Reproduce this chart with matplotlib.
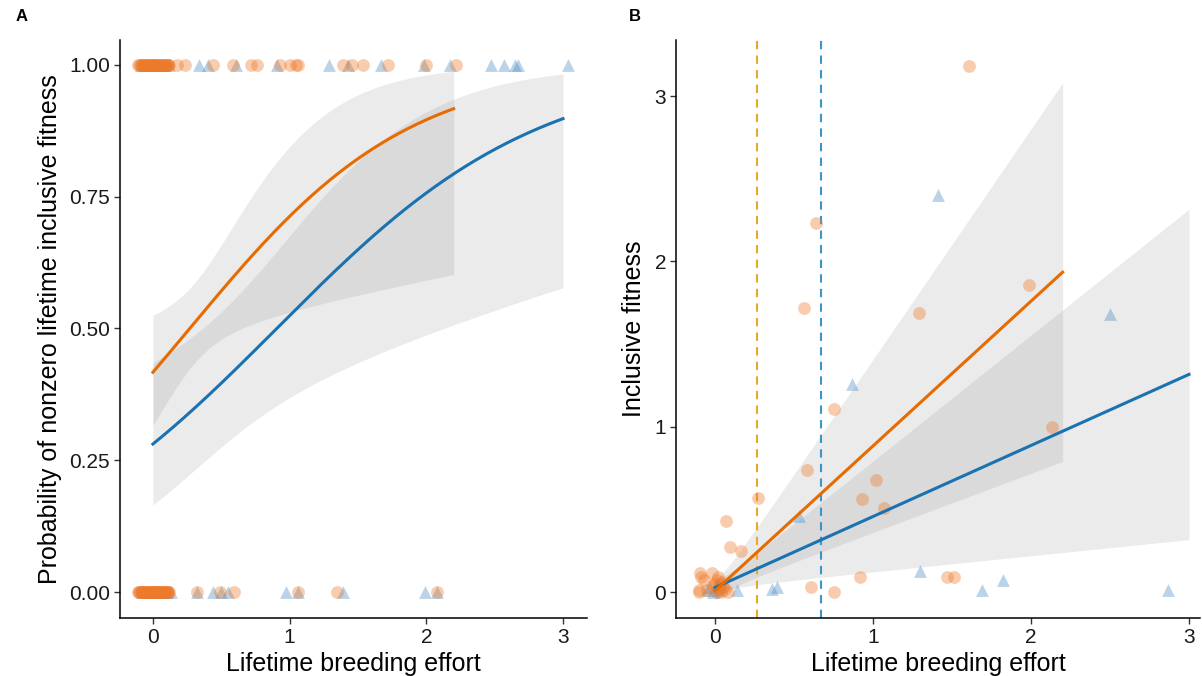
import numpy as np
import matplotlib
matplotlib.use("Agg")
import matplotlib.pyplot as plt

plt.rcParams['font.family'] = ['Liberation Sans', 'DejaVu Sans']

ORANGE = "#E66B00"
BLUE = "#1A72B0"
PT_ORANGE = "#EE7A2A"
PT_BLUE = "#4A8CC4"

# ---------------- Panel A: binary outcome (nonzero inclusive fitness) ----------------
# Orange group: x positions of individuals with outcome 1 and 0
a_orange_x1 = [-0.11, -0.10, -0.09, -0.08, -0.07, -0.06, -0.05, -0.04, -0.03, -0.02, -0.01,
               0.0, 0.0, 0.01, 0.02, 0.03, 0.04, 0.05, 0.06, 0.07, 0.08, 0.09, 0.10,
               0.11, 0.12, -0.09, -0.06, -0.03, 0.0, 0.03, 0.06, 0.09, 0.11,
               0.175, 0.235, 0.44, 0.585, 0.72, 0.76, 0.93, 1.0, 1.05, 1.06,
               1.39, 1.46, 1.54, 1.72, 2.0, 2.22]
a_orange_x0 = [-0.11, -0.10, -0.09, -0.08, -0.07, -0.06, -0.05, -0.04, -0.03, -0.02, -0.01,
               0.0, 0.0, 0.01, 0.02, 0.03, 0.04, 0.05, 0.06, 0.07, 0.08, 0.09, 0.10,
               0.11, 0.12, -0.10, -0.08, -0.06, -0.04, -0.02, 0.0, 0.02, 0.04, 0.06,
               0.08, 0.10, -0.09, -0.05, -0.01, 0.03, 0.07, 0.11,
               0.32, 0.49, 0.59, 1.06, 1.35, 2.08]
# Blue group
a_blue_x1 = [-0.09, -0.06, -0.04, -0.01, 0.02, 0.05, 0.08, 0.12, 0.34, 0.40, 0.61,
             0.91, 1.29, 1.43, 1.67, 1.98, 2.17, 2.47, 2.57, 2.65, 2.67, 3.04]
a_blue_x0 = [-0.08, -0.05, -0.02, 0.0, 0.02, 0.04, 0.07, 0.10, 0.13, 0.32, 0.44,
             0.50, 0.55, 0.97, 1.06, 1.39, 1.99, 2.08]

# Logistic fits: intercept, slope and (var0, cov, var1) on the logit scale
a_orange_coef = (-0.335, 1.243)
a_orange_vcov = (0.0493, -0.083, 0.277)
a_orange_range = (0.0, 2.2)
a_blue_coef = (-0.940, 1.038)
a_blue_vcov = (0.120, -0.0765, 0.138)
a_blue_range = (0.0, 3.0)

# ---------------- Panel B: inclusive fitness ----------------
b_orange_x = [1.61, 0.64, 0.56, 1.29, 1.99, 0.75, 2.13, 1.02, 0.58, 0.93, 1.07, 0.27,
              0.07, 0.095, 0.165, 0.92, 0.61, 0.75, 1.47, 1.51,
              -0.095, -0.09, -0.02, -0.10, 0.02, 0.03, 0.01, 0.08, -0.07, -0.05, 0.0,
              0.04, -0.1, 0.02, 0.03, 0.05, 0.01, 0.04, 0.06, -0.01]
b_orange_y = [3.18, 2.23, 1.72, 1.69, 1.86, 1.11, 1.00, 0.68, 0.74, 0.56, 0.51, 0.57,
              0.43, 0.27, 0.25, 0.09, 0.03, 0.0, 0.09, 0.09,
              0.115, 0.09, 0.115, 0.0, 0.09, 0.03, 0.0, 0.0, 0.07, 0.01, 0.05,
              0.06, 0.01, 0.02, 0.05, 0.03, 0.07, 0.0, 0.02, 0.04]
b_blue_x = [1.41, 2.50, 0.87, 0.53, 1.30, 1.82, 1.69, 2.87, 0.36, 0.39, 0.14,
            -0.05, -0.03, 0.01, 0.02, -0.01]
b_blue_y = [2.40, 1.68, 1.26, 0.46, 0.13, 0.07, 0.01, 0.01, 0.02, 0.03, 0.01,
            0.01, 0.03, 0.05, 0.01, 0.0]

# Linear fits: intercept, slope, band half-width at 0 and growth per unit x
b_orange_coef = (0.008, 0.876)
b_orange_band = (0.06, 0.52)
b_orange_range = (0.0, 2.2)
b_blue_coef = (0.027, 0.430)
b_blue_band = (0.04, 0.333)
b_blue_range = (0.0, 3.0)

# Group means of breeding effort (dashed reference lines)
b_mean_orange = 0.266
b_mean_blue = 0.671

Z = 1.96


def inv_logit(v):
    return 1.0 / (1.0 + np.exp(-v))


def style_axes(ax):
    for s in ("top", "right"):
        ax.spines[s].set_visible(False)
    for s in ("left", "bottom"):
        ax.spines[s].set_linewidth(1.1)
        ax.spines[s].set_color("black")
    ax.tick_params(axis="both", labelsize=15, length=4, width=1.0,
                   color="#333333", labelcolor="#1a1a1a", pad=3)


fig = plt.figure(figsize=(12.02, 6.76), dpi=100)
axA = fig.add_axes([0.0998, 0.0858, 0.3885, 0.855])
axB = fig.add_axes([0.5624, 0.0858, 0.436, 0.855])

band_kw = dict(color="#7a7a7a", alpha=0.15, linewidth=0)

# ---- Panel A ----
for coef, vc, rng, col in [(a_blue_coef, a_blue_vcov, a_blue_range, BLUE),
                           (a_orange_coef, a_orange_vcov, a_orange_range, ORANGE)]:
    xs = np.linspace(rng[0], rng[1], 200)
    eta = coef[0] + coef[1] * xs
    se = np.sqrt(vc[0] + 2 * vc[1] * xs + vc[2] * xs ** 2)
    axA.fill_between(xs, inv_logit(eta - Z * se), inv_logit(eta + Z * se), **band_kw)

for coef, rng, col in [(a_blue_coef, a_blue_range, BLUE),
                       (a_orange_coef, a_orange_range, ORANGE)]:
    xs = np.linspace(rng[0], rng[1], 200)
    axA.plot(xs, inv_logit(coef[0] + coef[1] * xs), color=col, lw=2.2, zorder=4)

pt_kw = dict(s=85, alpha=0.38, linewidths=0, zorder=3)
axA.scatter(a_blue_x1, np.ones(len(a_blue_x1)), marker="^", color=PT_BLUE, **pt_kw)
axA.scatter(a_blue_x0, np.zeros(len(a_blue_x0)), marker="^", color=PT_BLUE, **pt_kw)
axA.scatter(a_orange_x1, np.ones(len(a_orange_x1)), marker="o", color=PT_ORANGE, **pt_kw)
axA.scatter(a_orange_x0, np.zeros(len(a_orange_x0)), marker="o", color=PT_ORANGE, **pt_kw)

axA.set_xlim(-0.241, 3.175)
axA.set_ylim(-0.049, 1.047)
axA.set_xticks([0, 1, 2, 3])
axA.set_yticks([0, 0.25, 0.5, 0.75, 1.0])
axA.set_yticklabels(["0.00", "0.25", "0.50", "0.75", "1.00"])
axA.set_xlabel("Lifetime breeding effort", fontsize=18, labelpad=4)
axA.set_ylabel("Probability of nonzero lifetime inclusive fitness", fontsize=18, labelpad=5)
style_axes(axA)

# ---- Panel B ----
for coef, band, rng in [(b_blue_coef, b_blue_band, b_blue_range),
                        (b_orange_coef, b_orange_band, b_orange_range)]:
    xs = np.linspace(rng[0], rng[1], 200)
    fit = coef[0] + coef[1] * xs
    half = np.sqrt(band[0] ** 2 + (band[1] * xs) ** 2)
    axB.fill_between(xs, fit - half, fit + half, **band_kw)

for coef, rng, col in [(b_blue_coef, b_blue_range, BLUE),
                       (b_orange_coef, b_orange_range, ORANGE)]:
    xs = np.array(rng)
    axB.plot(xs, coef[0] + coef[1] * xs, color=col, lw=2.2, zorder=4)

axB.axvline(b_mean_orange, color="#E8A82C", lw=1.5, ls=(0, (4, 3)), zorder=2)
axB.axvline(b_mean_blue, color="#3A95CC", lw=1.5, ls=(0, (4, 3)), zorder=2)

axB.scatter(b_blue_x, b_blue_y, marker="^", color=PT_BLUE, **pt_kw)
axB.scatter(b_orange_x, b_orange_y, marker="o", color=PT_ORANGE, **pt_kw)

axB.set_xlim(-0.247, 3.07)
axB.set_ylim(-0.157, 3.34)
axB.set_xticks([0, 1, 2, 3])
axB.set_yticks([0, 1, 2, 3])
axB.set_xlabel("Lifetime breeding effort", fontsize=18, labelpad=4)
axB.set_ylabel("Inclusive fitness", fontsize=18, labelpad=6)
style_axes(axB)

fig.text(0.013, 0.975, "A", fontsize=12, fontweight="bold", va="center")
fig.text(0.523, 0.975, "B", fontsize=12, fontweight="bold", va="center")

fig.savefig("out.png", dpi=100, facecolor="white")
